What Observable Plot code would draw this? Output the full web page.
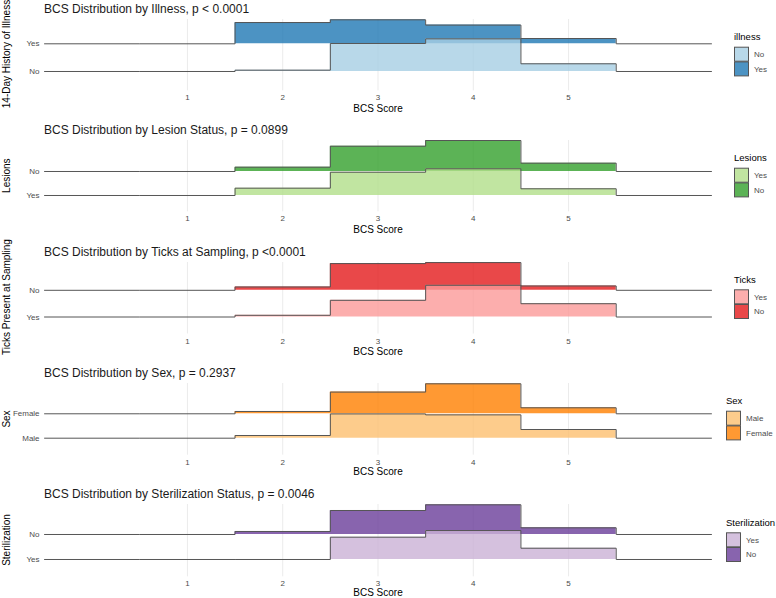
<!DOCTYPE html>
<html><head><meta charset="utf-8">
<script src="https://cdn.jsdelivr.net/npm/d3@7"></script>
<script src="https://cdn.jsdelivr.net/npm/@observablehq/plot@0.6"></script>
<style>
body{margin:0;background:#fff;}
#root{position:relative;width:776px;height:598px;overflow:hidden;background:#fff;font-family:"Liberation Sans",Arial,sans-serif;}
</style></head><body><div id="root"></div>
<script>
// BCS score bins (score 0 and 6 are empty edges of the axis)
const scores = [0, 1, 2, 3, 4, 5, 6];
const xTicks = [1, 2, 3, 4, 5];

// Proportion of each group at each BCS score
const illnessLevels = ["No", "Yes"];
const illnessNo  = [0, 0, 0.019, 0.403, 0.470, 0.111, 0];
const illnessYes = [0, 0, 0.306, 0.345, 0.269, 0.076, 0];

const lesionLevels = ["Yes", "No"];
const lesionYes = [0, 0, 0.110, 0.350, 0.402, 0.101, 0];
const lesionNo  = [0, 0, 0.065, 0.380, 0.466, 0.125, 0];

const tickLevels = ["Yes", "No"];
const tickYes = [0, 0, 0.027, 0.266, 0.506, 0.212, 0];
const tickNo  = [0, 0, 0.053, 0.426, 0.442, 0.069, 0];

const sexLevels = ["Male", "Female"];
const sexMale   = [0, 0, 0.045, 0.408, 0.392, 0.146, 0];
const sexFemale = [0, 0, 0.039, 0.365, 0.504, 0.101, 0];

const sterLevels = ["Yes", "No"];
const sterYes = [0, 0, 0.000, 0.354, 0.460, 0.179, 0];
const sterNo  = [0, 0, 0.048, 0.381, 0.471, 0.106, 0];

const titles = [
  "BCS Distribution by Illness, p < 0.0001",
  "BCS Distribution by Lesion Status, p = 0.0899",
  "BCS Distribution by Ticks at Sampling, p <0.0001",
  "BCS Distribution by Sex, p = 0.2937",
  "BCS Distribution by Sterilization Status, p = 0.0046"
];
const yTitles = ["14-Day History of Illness", "Lesions", "Ticks Present at Sampling", "Sex", "Sterilization"];
const legendTitles = ["illness", "Lesions", "Ticks", "Sex", "Sterilization"];
const xLabel = "BCS Score";

const palettes = [
  ["#A6CEE3", "#1F78B4"],
  ["#B2DF8A", "#33A02C"],
  ["#FB9A99", "#E31A1C"],
  ["#FDBF6F", "#FF7F00"],
  ["#CAB2D6", "#6A3D9A"]
];

const series = [
  {levels: illnessLevels, lower: illnessNo, upper: illnessYes},
  {levels: lesionLevels, lower: lesionYes, upper: lesionNo},
  {levels: tickLevels, lower: tickYes, upper: tickNo},
  {levels: sexLevels, lower: sexMale, upper: sexFemale},
  {levels: sterLevels, lower: sterYes, upper: sterNo}
];

// layout (pixels)
const layout = [
  {titleBase: 12.7, areaTop: 19,    areaBottom: 90.3,  lowerBase: 71,    upperBase: 43.3,  ppp: 69.5, lx: 734, legBase: 39.5,  keyTop: 46.7,  yTitleC: 54,    xl: 18},
  {titleBase: 134,  areaTop: 140,   areaBottom: 211.3, lowerBase: 195,   upperBase: 171,   ppp: 66.5, lx: 734, legBase: 161,   keyTop: 167.7, yTitleC: 175.7, xl: 18},
  {titleBase: 256,  areaTop: 261.5, areaBottom: 333,   lowerBase: 316,   upperBase: 289.3, ppp: 62.7, lx: 734, legBase: 282.7, keyTop: 289.3, yTitleC: 297,   xl: 18},
  {titleBase: 377,  areaTop: 383,   areaBottom: 454.7, lowerBase: 437.7, upperBase: 413.3, ppp: 59.5, lx: 726, legBase: 403.7, keyTop: 410.7, yTitleC: 419,   xl: 17},
  {titleBase: 498,  areaTop: 504,   areaBottom: 576.3, lowerBase: 559,   upperBase: 534,   ppp: 63,   lx: 726, legBase: 525.7, keyTop: 532.3, yTitleC: 540,   xl: 16}
];

const root = document.getElementById("root");
const FONT = '"Liberation Sans", Arial, sans-serif';
const LINE = "#555555";

function stepPoints(vals) {
  return scores.flatMap((s, i) => [{x: s - 0.5, v: vals[i]}, {x: s + 0.5, v: vals[i]}]);
}

series.forEach((s, k) => {
  const L = layout[k];
  const mb = 30;
  const H = L.areaBottom - L.areaTop;
  const d = (L.lowerBase - L.upperBase) / L.ppp;
  const y0 = (L.lowerBase - L.areaBottom) / L.ppp;
  const y1 = (L.lowerBase - L.areaTop) / L.ppp;
  const up = stepPoints(s.upper);
  const lo = stepPoints(s.lower);
  const chart = Plot.plot({
    width: 720, height: H + mb,
    marginLeft: 44, marginRight: 9, marginTop: 0, marginBottom: mb,
    x: {domain: [-0.5, 6.5]},
    y: {domain: [y0, y1]},
    color: {domain: s.levels, range: palettes[k]},
    style: {background: "transparent", overflow: "visible", fontFamily: FONT, fontSize: "8px", color: "#4d4d4d"},
    marks: [
      Plot.gridX(xTicks, {stroke: "#ebebeb", strokeOpacity: 1}),
      Plot.areaY(up, {x: "x", y1: d, y2: p => d + p.v, fill: () => s.levels[1], fillOpacity: 0.8}),
      Plot.line(up, {x: "x", y: p => d + p.v, stroke: LINE, strokeWidth: 1}),
      Plot.areaY(lo, {x: "x", y1: 0, y2: p => p.v, fill: () => s.levels[0], fillOpacity: 0.8}),
      Plot.line(lo, {x: "x", y: p => p.v, stroke: LINE, strokeWidth: 1}),
      Plot.axisX({ticks: xTicks, tickFormat: t => String(t), tickSize: 0, tickPadding: 4, label: null}),
      Plot.axisY({ticks: [0, d], tickFormat: (t, i) => s.levels[i], tickSize: 0, tickPadding: 5, label: null}),
      Plot.text([xLabel], {frameAnchor: "bottom", dy: L.xl, lineAnchor: "middle", fontSize: 10, fill: "#000"})
    ]
  });
  chart.style.position = "absolute";
  chart.style.left = "0px";
  chart.style.top = L.areaTop + "px";
  root.appendChild(chart);
});

// overlay: titles, y-axis titles, legends
const ov = d3.select(root).append("svg")
  .attr("width", 776).attr("height", 598)
  .style("position", "absolute").style("left", "0px").style("top", "0px")
  .style("font-family", FONT);

layout.forEach((L, k) => {
  ov.append("text").attr("x", 44).attr("y", L.titleBase)
    .attr("font-size", 12).attr("fill", "#1a1a1a").text(titles[k]);
  ov.append("text").attr("transform", `translate(10,${L.yTitleC}) rotate(-90)`)
    .attr("text-anchor", "middle").attr("font-size", 10).attr("fill", "#000").text(yTitles[k]);
  ov.append("text").attr("x", L.lx).attr("y", L.legBase)
    .attr("font-size", 9.5).attr("fill", "#000").text(legendTitles[k]);
  series[k].levels.forEach((lev, i) => {
    ov.append("rect").attr("x", L.lx + 0.5).attr("y", L.keyTop + i * 14.7 + 0.5)
      .attr("width", 14).attr("height", 14)
      .attr("fill", palettes[k][i]).attr("fill-opacity", 0.8)
      .attr("stroke", LINE).attr("stroke-width", 1);
    ov.append("text").attr("x", L.lx + 20).attr("y", L.keyTop + i * 14.7 + 7.5)
      .attr("dy", "0.35em").attr("font-size", 8).attr("fill", "#4d4d4d").text(lev);
  });
});
</script></body></html>
